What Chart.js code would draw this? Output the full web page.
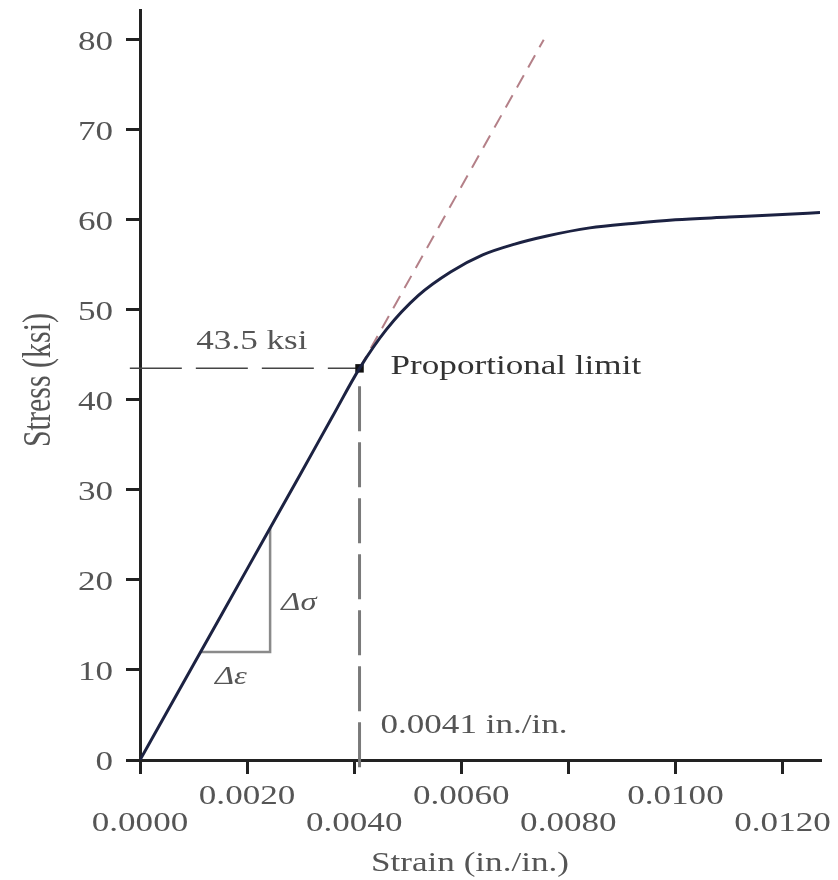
<!DOCTYPE html>
<html>
<head>
<meta charset="utf-8">
<title>Stress-strain curve</title>
<script src="https://cdn.jsdelivr.net/npm/chart.js@4.4.1/dist/chart.umd.min.js"></script>
<style>
  html, body { margin: 0; padding: 0; background: #fff; }
  #chart { display: block; }
</style>
</head>
<body>
<canvas id="chart" width="838" height="880"></canvas>
<script>
// ===== DATOS =====
const strain = [0, 0.0010, 0.0020, 0.0030, 0.0036, 0.0041, 0.0046, 0.0052, 0.0058, 0.0064, 0.0070, 0.0076, 0.0084, 0.0092, 0.0100, 0.0110, 0.0120, 0.0127];
const stress = [0, 10.6, 21.2, 31.8, 38.2, 43.5, 47.8, 51.6, 54.2, 56.1, 57.3, 58.2, 59.1, 59.6, 60.0, 60.3, 60.6, 60.8];

const propLimitStrain = 0.0041;
const propLimitStress = 43.5;

// prolongación de la recta elástica (rojo discontinuo)
const elasticStrain = [0.0041, 0.00754];
const elasticStress = [43.5, 80];

// triángulo de pendiente
const slopeStrain = [0.00113, 0.00243, 0.00243];
const slopeStress = [12.0, 12.0, 25.8];

const xTicks = [0, 0.002, 0.004, 0.006, 0.008, 0.010, 0.012];
const xTickLabels = ['0.0000', '0.0020', '0.0040', '0.0060', '0.0080', '0.0100', '0.0120'];
const yTicks = [0, 10, 20, 30, 40, 50, 60, 70, 80];
const yTickLabels = ['0', '10', '20', '30', '40', '50', '60', '70', '80'];

const xTitle = 'Strain (in./in.)';
const yTitle = 'Stress (ksi)';

// ===== ESTILO =====
const FONT = '"Liberation Serif", "Times New Roman", serif';
const STRETCH = 1.3;   // la figura original está estirada en horizontal
const AXIS_COLOR = '#222';

function zip(xs, ys) {
  return xs.map(function(x, i) { return { x: x, y: ys[i] }; });
}

// texto estirado horizontalmente
function drawText(ctx, text, x, y, opts) {
  ctx.save();
  ctx.font = (opts.style || '') + ' ' + (opts.size || 27) + 'px ' + FONT;
  ctx.fillStyle = opts.color || '#555';
  ctx.textAlign = opts.align || 'left';
  ctx.textBaseline = 'middle';
  ctx.translate(x, y);
  ctx.scale(STRETCH, 1);
  if (opts.rotate) ctx.rotate(opts.rotate);
  ctx.fillText(text, 0, 0);
  ctx.restore();
}

const textPlugin = {
  id: 'textos',
  beforeDraw: function(chart) {
    const ctx = chart.ctx;
    ctx.save();
    ctx.fillStyle = '#fff';
    ctx.fillRect(0, 0, chart.width, chart.height);
    ctx.restore();
  },
  afterDraw: function(chart) {
    const ctx = chart.ctx;
    const xs = chart.scales.x;
    const ys = chart.scales.y;
    const area = chart.chartArea;

    // etiquetas del eje x, en dos filas alternas
    xTicks.forEach(function(v, i) {
      const px = xs.getPixelForValue(v);
      const py = area.bottom + (i % 2 === 0 ? 64 : 37);
      drawText(ctx, xTickLabels[i], px, py, { align: 'center' });
    });

    // etiquetas del eje y
    yTicks.forEach(function(v, i) {
      const py = ys.getPixelForValue(v) + 3;
      drawText(ctx, yTickLabels[i], area.left - 27, py, { align: 'right' });
    });

    // títulos de los ejes
    drawText(ctx, xTitle, (area.left + area.right) / 2 - 10, area.bottom + 104, { align: 'center' });
    drawText(ctx, yTitle, 40, (area.top + area.bottom) / 2 - 5, { align: 'center', size: 30, rotate: -Math.PI / 2 });

    // anotaciones
    drawText(ctx, '43.5 ksi', xs.getPixelForValue(0.00209), ys.getPixelForValue(46.4), { align: 'center' });
    drawText(ctx, 'Proportional limit', xs.getPixelForValue(0.00468), ys.getPixelForValue(43.7), { color: '#333' });
    drawText(ctx, '0.0041 in./in.', xs.getPixelForValue(0.00449), ys.getPixelForValue(3.8), {});
    drawText(ctx, 'Δσ', xs.getPixelForValue(0.00264), ys.getPixelForValue(17.4), { style: 'italic', size: 25 });
    drawText(ctx, 'Δε', xs.getPixelForValue(0.00140), ys.getPixelForValue(9.2), { style: 'italic', size: 25 });
  }
};

function fixTicks(values) {
  return function(scale) {
    scale.ticks = values.map(function(v) { return { value: v }; });
  };
}

const axisGrid = {
  drawOnChartArea: false,
  drawTicks: true,
  tickLength: 14,
  color: AXIS_COLOR,
  tickColor: AXIS_COLOR,
  lineWidth: 3,
  tickWidth: 3
};

new Chart(document.getElementById('chart'), {
  type: 'scatter',
  data: {
    datasets: [
      {
        label: 'Curva',
        data: zip(strain, stress),
        showLine: true,
        borderColor: '#1c2242',
        borderWidth: 3,
        pointRadius: 0,
        cubicInterpolationMode: 'monotone'
      },
      {
        label: 'Límite proporcional',
        data: [{ x: propLimitStrain, y: propLimitStress }],
        pointRadius: 6,
        pointStyle: 'rect',
        backgroundColor: '#111',
        borderColor: '#111',
        borderWidth: 0
      },
      {
        label: 'Recta elástica',
        data: zip(elasticStrain, elasticStress),
        showLine: true,
        borderColor: '#b48088',
        borderWidth: 2,
        borderDash: [14, 9],
        pointRadius: 0
      },
      {
        label: 'Horizontal',
        data: [{ x: -0.00019, y: propLimitStress }, { x: propLimitStrain, y: propLimitStress }],
        showLine: true,
        borderColor: '#444',
        borderWidth: 1.5,
        borderDash: [52, 14],
        pointRadius: 0,
        clip: false
      },
      {
        label: 'Vertical',
        data: [{ x: propLimitStrain, y: 41.5 }, { x: propLimitStrain, y: -1.1 }],
        showLine: true,
        borderColor: '#7a7a7a',
        borderWidth: 3,
        borderDash: [45, 11],
        pointRadius: 0,
        clip: false
      },
      {
        label: 'Pendiente',
        data: zip(slopeStrain, slopeStress),
        showLine: true,
        borderColor: '#8a8a8a',
        borderWidth: 2.5,
        pointRadius: 0
      }
    ]
  },
  options: {
    responsive: false,
    animation: false,
    devicePixelRatio: 1,
    layout: { padding: { top: 10, right: 18, left: 0, bottom: 0 } },
    plugins: {
      legend: { display: false },
      tooltip: { enabled: false }
    },
    scales: {
      x: {
        type: 'linear',
        min: 0,
        max: 0.0127,
        afterBuildTicks: fixTicks(xTicks),
        afterFit: function(scale) { scale.height = 120; },
        ticks: { display: false },
        grid: axisGrid,
        border: { display: true, color: AXIS_COLOR, width: 3 }
      },
      y: {
        type: 'linear',
        min: 0,
        max: 83.3,
        afterBuildTicks: fixTicks(yTicks),
        afterFit: function(scale) { scale.width = 140; },
        ticks: { display: false },
        grid: axisGrid,
        border: { display: true, color: AXIS_COLOR, width: 3 }
      }
    }
  },
  plugins: [textPlugin]
});
</script>
</body>
</html>
